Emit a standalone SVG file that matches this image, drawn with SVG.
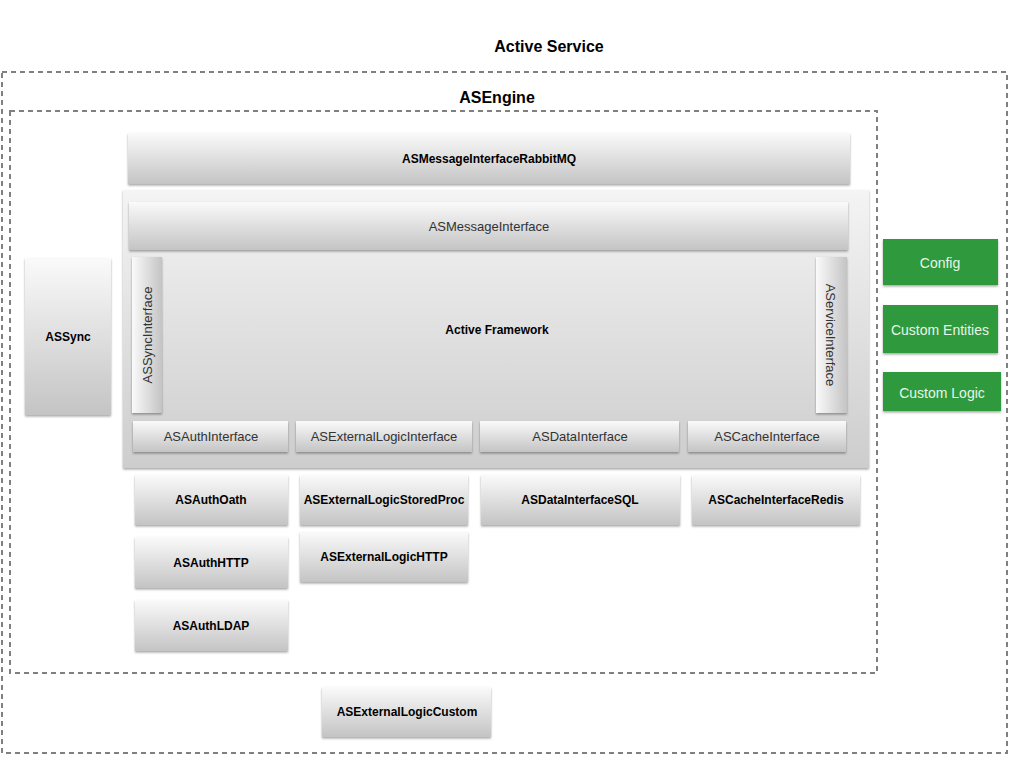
<svg xmlns="http://www.w3.org/2000/svg" width="1024" height="768" viewBox="0 0 1024 768">
<style>
.dash{fill:none;stroke:#808080;stroke-width:2;stroke-dasharray:5,4}
.box{fill:url(#g);filter:url(#sh)}
.vbox{fill:url(#gh);filter:url(#sh)}
.grn{fill:#2f9a3e;filter:url(#sh)}
.t{font-family:"Liberation Sans",Arial,sans-serif;font-size:13px;fill:#333;text-anchor:middle}
.b{font-family:"Liberation Sans",Arial,sans-serif;font-size:12px;font-weight:bold;fill:#000;text-anchor:middle}
.w{font-family:"Liberation Sans",Arial,sans-serif;font-size:14px;fill:#e8f5e8;text-anchor:middle}
.h{font-family:"Liberation Sans",Arial,sans-serif;font-size:16px;font-weight:bold;fill:#000;text-anchor:middle}
</style>
<defs>
<linearGradient id="g" x1="0" y1="0" x2="0" y2="1"><stop offset="0" stop-color="#fafafa"/><stop offset="1" stop-color="#c4c4c4"/></linearGradient>
<linearGradient id="gh" x1="0" y1="0" x2="1" y2="0"><stop offset="0" stop-color="#fafafa"/><stop offset="1" stop-color="#c4c4c4"/></linearGradient>
<linearGradient id="gf" x1="0" y1="0" x2="0" y2="1"><stop offset="0" stop-color="#f4f4f4"/><stop offset="1" stop-color="#cdcdcd"/></linearGradient>
<filter id="sh" x="-10%" y="-10%" width="120%" height="130%"><feDropShadow dx="0" dy="1.5" stdDeviation="1.2" flood-color="#000" flood-opacity="0.35"/></filter>
</defs>
<text class="h" x="549" y="52">Active Service</text>
<rect class="dash" x="2" y="72" width="1005" height="681"/>
<text class="h" x="497" y="103">ASEngine</text>
<rect class="dash" x="10" y="111" width="867" height="562"/>
<g id="rabbit"><rect class="box" x="128" y="133" width="722" height="51"/><text class="b" x="489" y="163">ASMessageInterfaceRabbitMQ</text></g>
<g id="framework"><rect x="123" y="190" width="746" height="278" fill="url(#gf)" filter="url(#sh)"/><text class="b" x="497" y="334">Active Framework</text></g>
<g id="msg"><rect class="box" x="129" y="202" width="719" height="48"/><text class="t" x="489" y="231">ASMessageInterface</text></g>
<g id="syncif"><rect class="vbox" x="132" y="257" width="30" height="156"/><text class="t" transform="translate(152,335) rotate(-90)">ASSyncInterface</text></g>
<g id="serviceif"><rect class="vbox" x="816" y="257" width="31" height="156"/><text class="t" transform="translate(826,335) rotate(90)">AServiceInterface</text></g>
<g id="authif"><rect class="box" x="133" y="421" width="155" height="31"/><text class="t" x="211" y="441">ASAuthInterface</text></g>
<g id="extif"><rect class="box" x="296" y="421" width="176" height="31"/><text class="t" x="384" y="441">ASExternalLogicInterface</text></g>
<g id="dataif"><rect class="box" x="480" y="421" width="199" height="31"/><text class="t" x="580" y="441">ASDataInterface</text></g>
<g id="cacheif"><rect class="box" x="688" y="421" width="158" height="31"/><text class="t" x="767" y="441">ASCacheInterface</text></g>
<g id="assync"><rect class="box" x="25" y="258" width="86" height="157"/><text class="b" x="68" y="341">ASSync</text></g>
<g id="config"><rect class="grn" x="883" y="239" width="115" height="46"/><text class="w" x="940" y="268">Config</text></g>
<g id="entities"><rect class="grn" x="883" y="305" width="115" height="48"/><text class="w" x="940" y="335">Custom Entities</text></g>
<g id="logic"><rect class="grn" x="883" y="372" width="118" height="39"/><text class="w" x="942" y="398">Custom Logic</text></g>
<g id="oath"><rect class="box" x="135" y="475" width="153" height="50"/><text class="b" x="211" y="504">ASAuthOath</text></g>
<g id="authhttp"><rect class="box" x="135" y="537" width="153" height="51"/><text class="b" x="211" y="567">ASAuthHTTP</text></g>
<g id="ldap"><rect class="box" x="135" y="600" width="153" height="51"/><text class="b" x="211" y="630">ASAuthLDAP</text></g>
<g id="storedproc"><rect class="box" x="300" y="475" width="168" height="50"/><text class="b" x="384" y="504">ASExternalLogicStoredProc</text></g>
<g id="exthttp"><rect class="box" x="300" y="532" width="168" height="50"/><text class="b" x="384" y="561">ASExternalLogicHTTP</text></g>
<g id="sql"><rect class="box" x="481" y="475" width="199" height="50"/><text class="b" x="580" y="504">ASDataInterfaceSQL</text></g>
<g id="redis"><rect class="box" x="692" y="475" width="168" height="50"/><text class="b" x="776" y="504">ASCacheInterfaceRedis</text></g>
<g id="custom"><rect class="box" x="322" y="687" width="169" height="50"/><text class="b" x="407" y="716">ASExternalLogicCustom</text></g>
<g id="connectors"/>
</svg>
